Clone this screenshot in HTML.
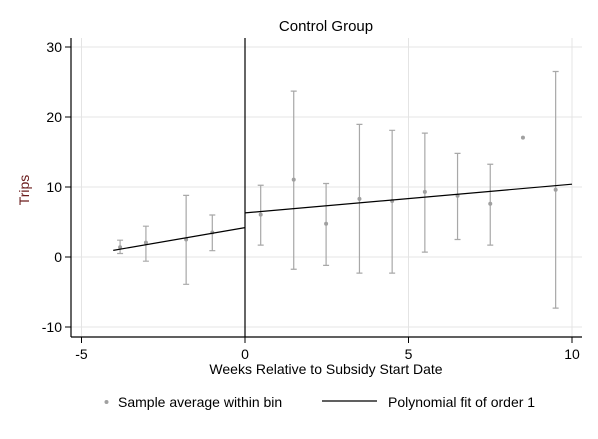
<!DOCTYPE html>
<html><head><meta charset="utf-8"><style>
body{margin:0;background:#fff}
svg text{font-family:"Liberation Sans",Arial,sans-serif;fill:#000}
</style></head><body>
<svg id="chart" width="598" height="434" xmlns="http://www.w3.org/2000/svg">
<rect width="598" height="434" fill="#fff"/>
<text x="326" y="31" font-size="15" text-anchor="middle">Control Group</text>
<g id="grid"></g>
<g id="marks"></g>
<g id="axes"></g>
<text transform="translate(29,190) rotate(-90)" font-size="14" text-anchor="middle" style="fill:#6a1b1b">Trips</text>
<text x="326" y="374" font-size="14" text-anchor="middle">Weeks Relative to Subsidy Start Date</text>
<g>
<circle cx="106.5" cy="402" r="2" fill="#a0a0a0"/>
<text x="118" y="407" font-size="14">Sample average within bin</text>
<line x1="322" y1="401" x2="377" y2="401" stroke="#000" stroke-width="1.2"/>
<text x="388" y="407" font-size="14">Polynomial fit of order 1</text>
</g>
</svg>
<script>
const binX=[-3.82,-3.03,-1.8,-1.0,0.48,1.49,2.48,3.5,4.5,5.5,6.5,7.5,8.5,9.5];
const binMean=[1.4,2.05,2.5,3.5,6.05,11.05,4.75,8.3,8.0,9.3,8.75,7.6,17.05,9.6];
const ciHigh=[2.4,4.4,8.8,6.0,10.25,23.7,10.5,18.95,18.1,17.7,14.8,13.25,null,26.5];
const ciLow=[0.5,-0.6,-3.9,0.9,1.7,-1.75,-1.2,-2.3,-2.3,0.7,2.5,1.7,null,-7.3];
const fitPreX=[-4.03,0];const fitPreY=[0.95,4.2];
const fitPostX=[0,10];const fitPostY=[6.3,10.4];
const xTicks=[-5,0,5,10];const yTicks=[-10,0,10,20,30];
const NS="http://www.w3.org/2000/svg";
const L=71,R=582,T=38,B=337;
function sx(v){return 245+v*32.7;}
function sy(v){return 257-v*7;}
function mk(p,tag,a){const e=document.createElementNS(NS,tag);for(const k in a)e.setAttribute(k,a[k]);p.appendChild(e);return e;}
const grid=document.getElementById('grid'),marks=document.getElementById('marks'),axes=document.getElementById('axes');
yTicks.forEach(t=>{
 const g=mk(grid,'line',{x1:L,x2:R,y1:sy(t),y2:sy(t),stroke:'#e4e4e4','stroke-width':1});
 
 
 const tk=mk(axes,'line',{x1:65,x2:L,y1:sy(t),y2:sy(t),stroke:'#000'});
 
 
 const tx=mk(axes,'text',{x:62,y:sy(t)+5,'font-size':14,'text-anchor':'end'});tx.textContent=t;
 
 
});
xTicks.forEach(t=>{
 if(t!==0){const g=mk(grid,'line',{x1:sx(t),x2:sx(t),y1:T,y2:B,stroke:'#e4e4e4','stroke-width':1});
 
 }
 const tk=mk(axes,'line',{x1:sx(t),x2:sx(t),y1:B,y2:B+6,stroke:'#000'});
 
 
 const tx=mk(axes,'text',{x:sx(t),y:359,'font-size':14,'text-anchor':'middle'});tx.textContent=t;
 
 
});
binX.forEach((x,i)=>{
 if(ciHigh[i]!==null){
  const c=mk(marks,'path',{d:`M${sx(x)},${sy(ciHigh[i])}V${sy(ciLow[i])}M${sx(x)-3},${sy(ciHigh[i])}h6M${sx(x)-3},${sy(ciLow[i])}h6`,stroke:'#a8a8a8',fill:'none','stroke-width':1.2});
  
  
 }
 const p=mk(marks,'circle',{cx:sx(x),cy:sy(binMean[i]),r:2,fill:'#a0a0a0'});
 
 
});
[[fitPreX,fitPreY],[fitPostX,fitPostY]].forEach(([xs,ys])=>{
 const l=mk(marks,'polyline',{points:xs.map((x,i)=>sx(x)+','+sy(ys[i])).join(' '),stroke:'#000',fill:'none','stroke-width':1.2});
 
 
});
const cut=mk(marks,'line',{x1:sx(0),x2:sx(0),y1:T,y2:B,stroke:'#000','stroke-width':1.2});


const ya=mk(axes,'line',{x1:L,x2:L,y1:T,y2:B,stroke:'#000','stroke-width':1.2});


const xa=mk(axes,'line',{x1:L,x2:R,y1:B,y2:B,stroke:'#000','stroke-width':1.2});


</script>
</body></html>
